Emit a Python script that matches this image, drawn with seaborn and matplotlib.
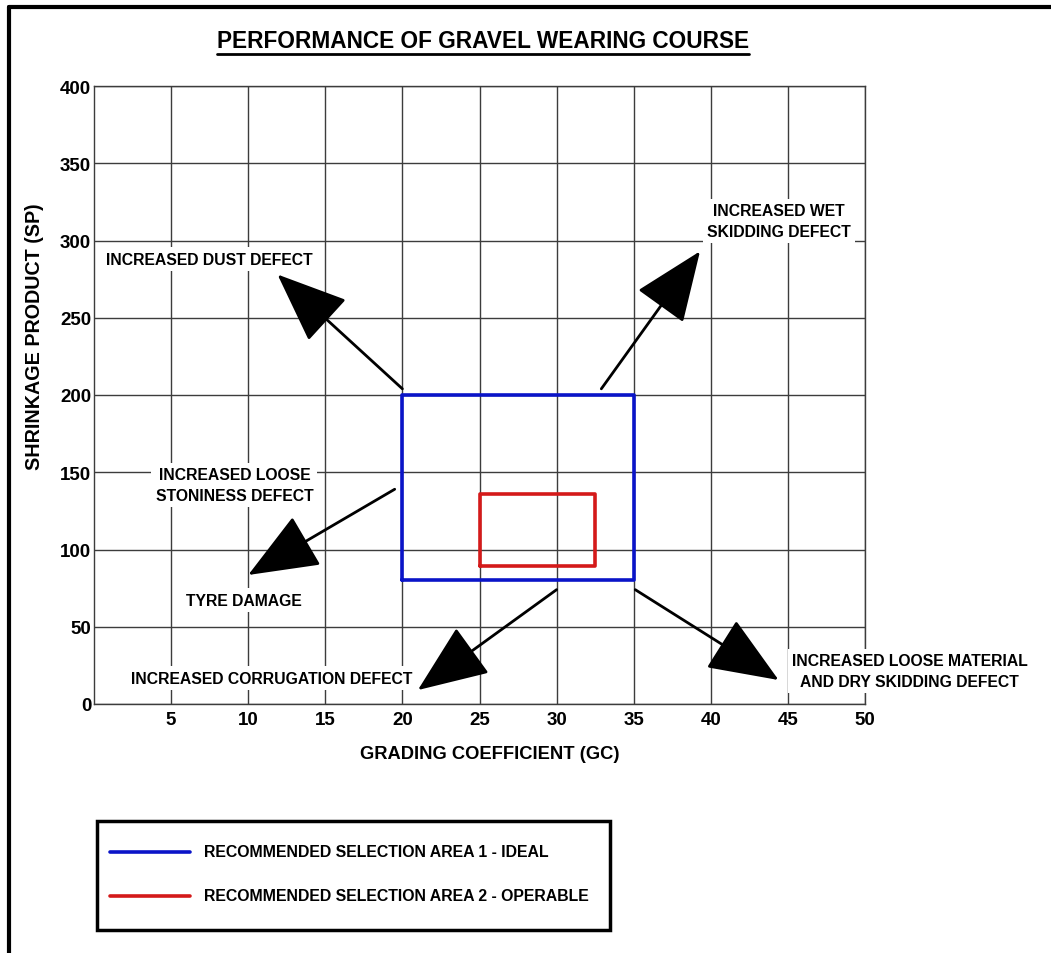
import matplotlib
matplotlib.use("Agg")
import matplotlib.pyplot as plt
from matplotlib.lines import Line2D
from matplotlib.patches import Rectangle
import seaborn as sns
import pandas as pd

# ---- data ----
title = "PERFORMANCE OF GRAVEL WEARING COURSE"
x_label = "GRADING COEFFICIENT (GC)"
y_label = "SHRINKAGE PRODUCT (SP)"
x_ticks = [5, 10, 15, 20, 25, 30, 35, 40, 45, 50]
y_ticks = [0, 50, 100, 150, 200, 250, 300, 350, 400]

area1_label = "RECOMMENDED SELECTION AREA 1 - IDEAL"
area1_gc = [20, 35, 35, 20, 20]
area1_sp = [80, 80, 200, 200, 80]

area2_label = "RECOMMENDED SELECTION AREA 2 - OPERABLE"
area2_gc = [25, 32.5, 32.5, 25, 25]
area2_sp = [89, 89, 136, 136, 89]

defect_labels = ["INCREASED DUST DEFECT",
                 "INCREASED WET\nSKIDDING DEFECT",
                 "INCREASED LOOSE\nSTONINESS DEFECT",
                 "TYRE DAMAGE",
                 "INCREASED CORRUGATION DEFECT",
                 "INCREASED LOOSE MATERIAL\nAND DRY SKIDDING DEFECT"]
label_gc = [7.5, 44.4, 9.1, 9.7, 11.5, 52.9]
label_sp = [288, 312.6, 141.7, 67.3, 16.8, 21.4]

arrow_tail_gc = [20.0, 32.9, 19.5, 30.0, 35.1]
arrow_tail_sp = [204, 204, 139, 74, 74]
arrow_tip_gc = [11.9, 39.3, 10.0, 21.0, 44.4]
arrow_tip_sp = [278, 293, 83.5, 9, 15.5]

BLUE = "#0a14c8"
RED = "#d41a1a"

# ---- style ----
sns.set_theme(style="white")
plt.rcParams["font.family"] = ["Liberation Sans", "DejaVu Sans"]
plt.rcParams["font.weight"] = "bold"
plt.rcParams["text.color"] = "black"
plt.rcParams["axes.labelcolor"] = "black"
plt.rcParams["xtick.color"] = "black"
plt.rcParams["ytick.color"] = "black"

W, H = 1051, 954
fig = plt.figure(figsize=(W / 100, H / 100), dpi=100)
fig.patch.set_facecolor("white")
ax = fig.add_axes([94 / W, 1 - 705 / H, (865 - 94) / W, (705 - 87) / H])

df1 = pd.DataFrame({"GC": area1_gc, "SP": area1_sp})
df2 = pd.DataFrame({"GC": area2_gc, "SP": area2_sp})
sns.lineplot(data=df1, x="GC", y="SP", sort=False, estimator=None, color=BLUE,
             lw=2.6, ax=ax, zorder=5)
sns.lineplot(data=df2, x="GC", y="SP", sort=False, estimator=None, color=RED,
             lw=2.6, ax=ax, zorder=5)

ax.set_xlim(0, 50)
ax.set_ylim(0, 400)
ax.set_xticks(x_ticks)
ax.set_yticks(y_ticks)
ax.grid(True, color="#3c3c3c", lw=1.0)
for s in ax.spines.values():
    s.set_color("#3c3c3c")
    s.set_linewidth(1.0)
ax.tick_params(axis="x", direction="in", length=8, width=1, color="#3c3c3c",
               labelsize=13.5, pad=5, labelcolor="black")
ax.tick_params(axis="y", length=0, labelsize=13.5, pad=2, labelcolor="black")
for lab in ax.get_xticklabels() + ax.get_yticklabels():
    lab.set_fontweight("bold")
ax.set_xlabel(x_label, fontsize=13.2, fontweight="bold", color="black")
ax.set_ylabel(y_label, fontsize=14.2, fontweight="bold", color="black")
ax.xaxis.set_label_coords((490 - 94) / (865 - 94), -(746 - 705) / (705 - 87))
ax.yaxis.set_label_coords(-(94 - 44) / (865 - 94), (705 - 337) / (705 - 87))

# defect labels
for t, gx, gy in zip(defect_labels, label_gc, label_sp):
    ax.text(gx, gy, t, ha="center", va="center", fontsize=11.3, fontweight="bold",
            linespacing=1.45, clip_on=False, zorder=6, color="black",
            bbox=dict(facecolor="white", edgecolor="none", pad=3))

# arrows
for x0, y0, x1, y1 in zip(arrow_tail_gc, arrow_tail_sp, arrow_tip_gc, arrow_tip_sp):
    ax.annotate("", xy=(x1, y1), xytext=(x0, y0), annotation_clip=False, zorder=7,
                arrowprops=dict(arrowstyle="-|>,head_length=1.6,head_width=0.65",
                                mutation_scale=28, lw=2, color="black",
                                shrinkA=0, shrinkB=0))

# title with underline
tt = fig.text(483 / W, 1 - 41 / H, title, ha="center", va="center", fontsize=16.3,
              fontweight="bold", color="black")
fig.canvas.draw()
bb = tt.get_window_extent()
uy = bb.y0 - 2
fig.add_artist(Line2D([bb.x0 / W, bb.x1 / W], [uy / H, uy / H], color="black", lw=2))

# legend box (drawn in figure pixels)
fig.add_artist(Rectangle((97 / W, 1 - 931 / H), (610 - 97) / W, (931 - 822) / H,
                         transform=fig.transFigure, facecolor="white",
                         edgecolor="black", lw=2.5))
for lbl, col, py in [(area1_label, BLUE, 853), (area2_label, RED, 897)]:
    fig.add_artist(Line2D([110 / W, 190 / W], [1 - py / H, 1 - py / H], color=col, lw=2.6))
    fig.text(204 / W, 1 - py / H, lbl, ha="left", va="center", fontsize=11.4,
             fontweight="bold", color="black")

# outer frame
fig.add_artist(Line2D([9 / W, 9 / W], [0, 1 - 8 / H], color="black", lw=3))
fig.add_artist(Line2D([9 / W, 1], [1 - 8 / H, 1 - 8 / H], color="black", lw=3))

fig.savefig("out.png", dpi=100, facecolor="white")
